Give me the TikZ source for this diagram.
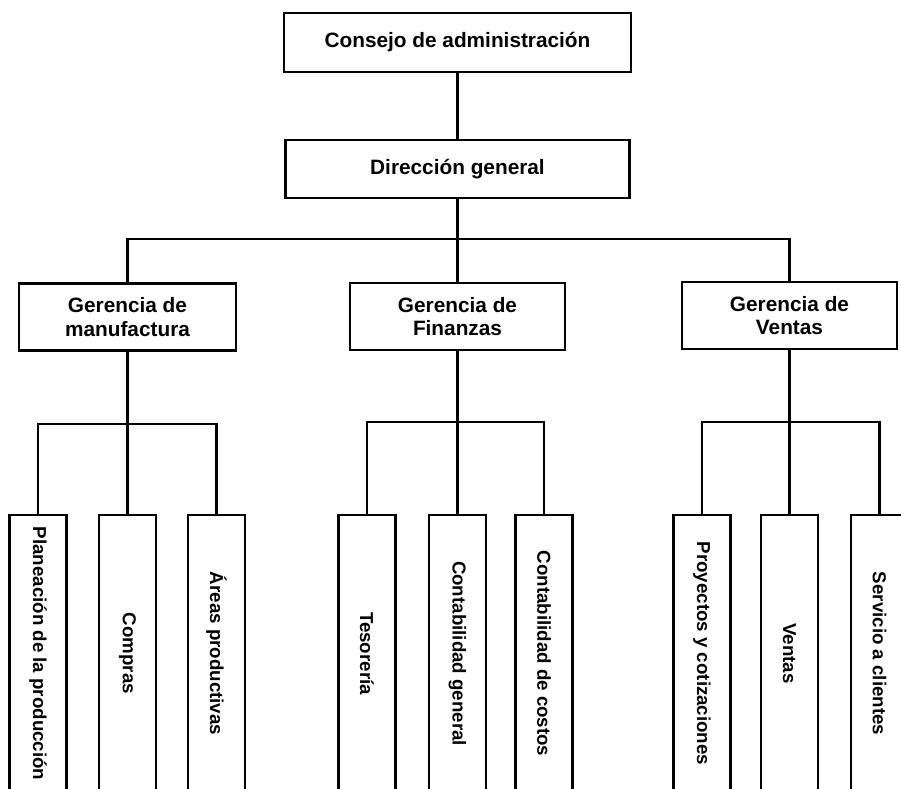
\documentclass[tikz,border=0pt]{standalone}
\usepackage{fontspec}
\setmainfont{Liberation Sans}
\usepackage{graphicx}
\begin{document}
\begin{tikzpicture}[x=1pt,y=1pt,
  line width=2.2pt,
  topbox/.style={draw, fill=white, inner sep=0pt, align=center,
    font=\bfseries\fontsize{20.8}{23.5}\selectfont},
  subbox/.style={draw, fill=white, inner sep=0pt, minimum width=57pt, minimum height=277pt,
    font=\bfseries\fontsize{18.7}{22}\selectfont},
  conn/.style={line width=2.2pt}]
\useasboundingbox (0,0) rectangle (901,-788);
\clip (0,0) rectangle (901,-788);
% top levels
\node[topbox, minimum width=347pt, minimum height=59pt] (cons) at (457.5,-42.5) {Consejo de administración};
\node[topbox, minimum width=344pt, minimum height=58pt] (dir) at (457.5,-169) {Dirección general};
% managers
\node[topbox, minimum width=217pt, minimum height=67pt] (gm) at (127.5,-317) {Gerencia de\\manufactura};
\node[topbox, minimum width=215pt, minimum height=67pt] (gf) at (457.5,-316.5) {Gerencia de\\Finanzas};
\node[topbox, minimum width=215pt, minimum height=67pt] (gv) at (789.5,-315.5) {Gerencia de\\Ventas};
% departments
\node[subbox] (b1) at (38,-653.5) {\rotatebox{-90}{Planeación de la producción}};
\node[subbox] (b2) at (127.5,-653.5) {\rotatebox{-90}{Compras}};
\node[subbox] (b3) at (216.5,-653.5) {\rotatebox{-90}{Áreas productivas}};
\node[subbox] (b4) at (367,-653.5) {\rotatebox{-90}{Tesorería}};
\node[subbox] (b5) at (457.5,-653.5) {\rotatebox{-90}{Contabilidad general}};
\node[subbox] (b6) at (544,-653.5) {\rotatebox{-90}{Contabilidad de costos}};
\node[subbox] (b7) at (702,-653.5) {\rotatebox{-90}{Proyectos y cotizaciones}};
\node[subbox] (b8) at (789.5,-653.5) {\rotatebox{-90}{Ventas}};
\node[subbox] (b9) at (879.5,-653.5) {\rotatebox{-90}{Servicio a clientes}};
% junctions
\coordinate (j0) at (457.5,-239);
\coordinate (j1) at (127.5,-424);
\coordinate (j2) at (457.5,-422);
\coordinate (j3) at (789.5,-422);
% connectors
\draw[conn] (cons) -- (dir);
\draw[conn] (dir) -- (j0);
\draw[conn] (gm.north) |- (j0) -| (gv.north);
\draw[conn] (j0) -- (gf);
\draw[conn] (gm) -- (j1);
\draw[conn] (b1.north) |- (j1) -| (b3.north);
\draw[conn] (j1) -- (b2);
\draw[conn] (gf) -- (j2);
\draw[conn] (b4.north) |- (j2) -| (b6.north);
\draw[conn] (j2) -- (b5);
\draw[conn] (gv) -- (j3);
\draw[conn] (b7.north) |- (j3) -| (b9.north);
\draw[conn] (j3) -- (b8);
\end{tikzpicture}
\end{document}
